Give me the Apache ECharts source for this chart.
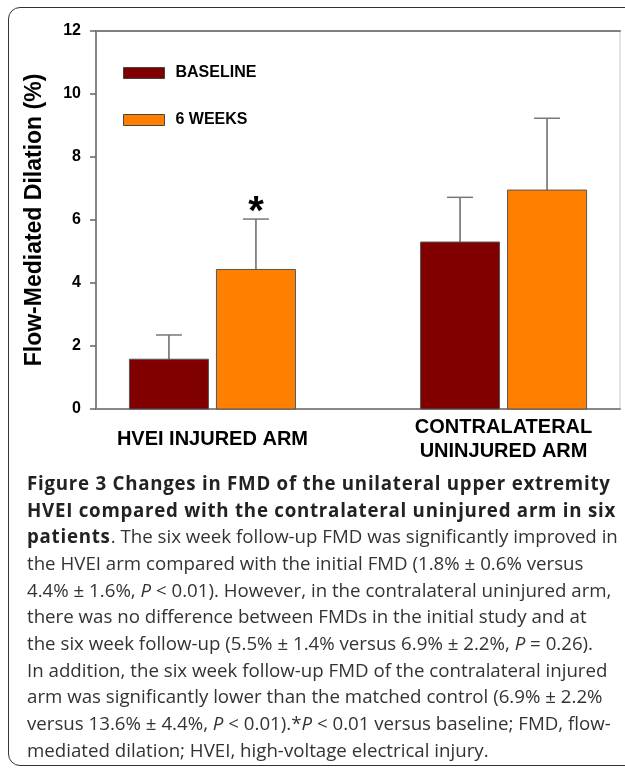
<!DOCTYPE html>
<html>
<head>
<meta charset="utf-8">
<script src="https://cdn.jsdelivr.net/npm/echarts@6/dist/echarts.min.js"></script>
<style>
html,body{margin:0;padding:0;background:#fff;width:625px;height:769px;overflow:hidden;}
#frame{position:absolute;left:8px;top:7px;width:660px;height:759px;border:1.5px solid #333;border-radius:12px;box-sizing:border-box;}
#chart{position:absolute;left:0;top:0;width:625px;height:769px;}
#caption{position:absolute;left:27px;top:470px;font-family:"Open Sans",sans-serif;font-size:18.7px;line-height:26.65px;color:#333;white-space:nowrap;}
#caption b{color:#222;letter-spacing:0.75px;}
</style>
</head>
<body>
<div id="frame"></div>
<div id="chart"></div>
<div id="caption">
<b>Figure 3 Changes in FMD of the unilateral upper extremity</b><br>
<b>HVEI compared with the contralateral uninjured arm in six</b><br>
<b>patients</b>. The six week follow-up FMD was significantly improved in<br>
the HVEI arm compared with the initial FMD (1.8% ± 0.6% versus<br>
4.4% ± 1.6%, <i>P</i> &lt; 0.01). However, in the contralateral uninjured arm,<br>
there was no difference between FMDs in the initial study and at<br>
the six week follow-up (5.5% ± 1.4% versus 6.9% ± 2.2%, <i>P</i> = 0.26).<br>
In addition, the six week follow-up FMD of the contralateral injured<br>
arm was significantly lower than the matched control (6.9% ± 2.2%<br>
versus 13.6% ± 4.4%, <i>P</i> &lt; 0.01).*<i>P</i> &lt; 0.01 versus baseline; FMD, flow-<br>
mediated dilation; HVEI, high-voltage electrical injury.
</div>
<script>
const categories = ['HVEI INJURED ARM', 'CONTRALATERAL\nUNINJURED ARM'];
const seriesNames = ['BASELINE', '6 WEEKS'];
const baseline = [1.58, 5.30];
const baselineErr = [0.77, 1.42];
const sixWeeks = [4.43, 6.95];
const sixWeeksErr = [1.60, 2.28];
const baselineMarks = ['', ''];
const sixWeeksMarks = ['*', ''];
const yTicks = [0, 2, 4, 6, 8, 10, 12];
const colors = ['#800000', '#FF8000'];

const BAR_W = 79, GAP = 8;
const FONT = '"Liberation Sans", Arial, sans-serif';

function makeSeries(name, vals, errs, marks, idx) {
  const side = idx === 0 ? -1 : 1;
  return {
    name: name,
    type: 'custom',
    itemStyle: { color: colors[idx], borderColor: '#444', borderWidth: 1 },
    encode: { x: 0, y: 1 },
    data: vals.map((v, i) => [i, v, errs[i]]),
    renderItem: function (params, api) {
      const x = api.value(0), v = api.value(1), e = api.value(2);
      const mark = marks[params.dataIndex];
      const base = api.coord([x, 0]);
      const top = api.coord([x, v]);
      const et = api.coord([x, v + e]);
      const cx = base[0] + side * (BAR_W + GAP) / 2;
      const children = [
        { type: 'line', shape: { x1: cx, y1: top[1], x2: cx, y2: et[1] }, style: { stroke: '#666', lineWidth: 1.5 } },
        { type: 'line', shape: { x1: cx - 13, y1: et[1], x2: cx + 13, y2: et[1] }, style: { stroke: '#777', lineWidth: 1.5 } },
        { type: 'rect', shape: { x: cx - BAR_W / 2, y: top[1], width: BAR_W, height: base[1] - top[1] },
          style: { fill: colors[idx], stroke: '#555', lineWidth: 1 } }
      ];
      if (mark) {
        children.push({ type: 'text', x: cx, y: et[1] + 14, style: { text: mark, fill: '#000', font: 'bold 40px ' + FONT, align: 'center', verticalAlign: 'bottom' } });
      }
      return { type: 'group', children: children };
    }
  };
}

const chart = echarts.init(document.getElementById('chart'), null, { renderer: 'canvas' });
chart.setOption({
  animation: false,
  backgroundColor: 'transparent',
  grid: { left: 96, right: 5, top: 31, bottom: 360, show: true, borderColor: '#c8c8c8', borderWidth: 1, backgroundColor: 'transparent' },
  legend: {
    data: seriesNames,
    orient: 'vertical',
    left: 123, top: 65, padding: 0,
    itemWidth: 41, itemHeight: 11, itemGap: 31,
    icon: 'rect',
    itemStyle: { borderColor: '#444', borderWidth: 1 },
    textStyle: { fontFamily: FONT, fontWeight: 'bold', fontSize: 16, color: '#000', padding: [0, 0, 0, 6] }
  },
  xAxis: [{
    type: 'value', min: -0.4, max: 1.4, interval: 0.2,
    axisLine: { show: true, onZero: false, lineStyle: { color: '#888', width: 2 } },
    axisTick: { show: false }, splitLine: { show: false },
    axisLabel: {
      margin: 30, verticalAlign: 'middle', lineHeight: 24,
      fontFamily: FONT, fontWeight: 'bold', fontSize: 20, color: '#000',
      showMinLabel: true, showMaxLabel: true,
      formatter: function (v) { const i = Math.round(v); return (Math.abs(v - i) < 1e-6 && i >= 0 && i < categories.length) ? categories[i] : ''; }
    }
  }, {
    type: 'value', position: 'top', min: -0.4, max: 1.4,
    axisLine: { show: true, onZero: false, lineStyle: { color: '#808080', width: 2 } },
    axisTick: { show: false }, axisLabel: { show: false }, splitLine: { show: false }
  }],
  yAxis: {
    type: 'value', min: yTicks[0], max: yTicks[yTicks.length - 1], interval: 2,
    name: 'Flow-Mediated Dilation (%)', nameLocation: 'middle', nameGap: 50,
    nameTextStyle: { fontFamily: FONT, fontWeight: 'bold', fontSize: 23, color: '#000' },
    axisLine: { show: true, onZero: false, lineStyle: { color: '#666', width: 1.5 } },
    axisTick: { show: true, inside: false, length: 6, lineStyle: { color: '#666', width: 1.5 } },
    splitLine: { show: false },
    axisLabel: { margin: 15, fontFamily: FONT, fontWeight: 'bold', fontSize: 16, color: '#000' }
  },
  series: [
    makeSeries(seriesNames[0], baseline, baselineErr, baselineMarks, 0),
    makeSeries(seriesNames[1], sixWeeks, sixWeeksErr, sixWeeksMarks, 1)
  ]
});
</script>
</body>
</html>
